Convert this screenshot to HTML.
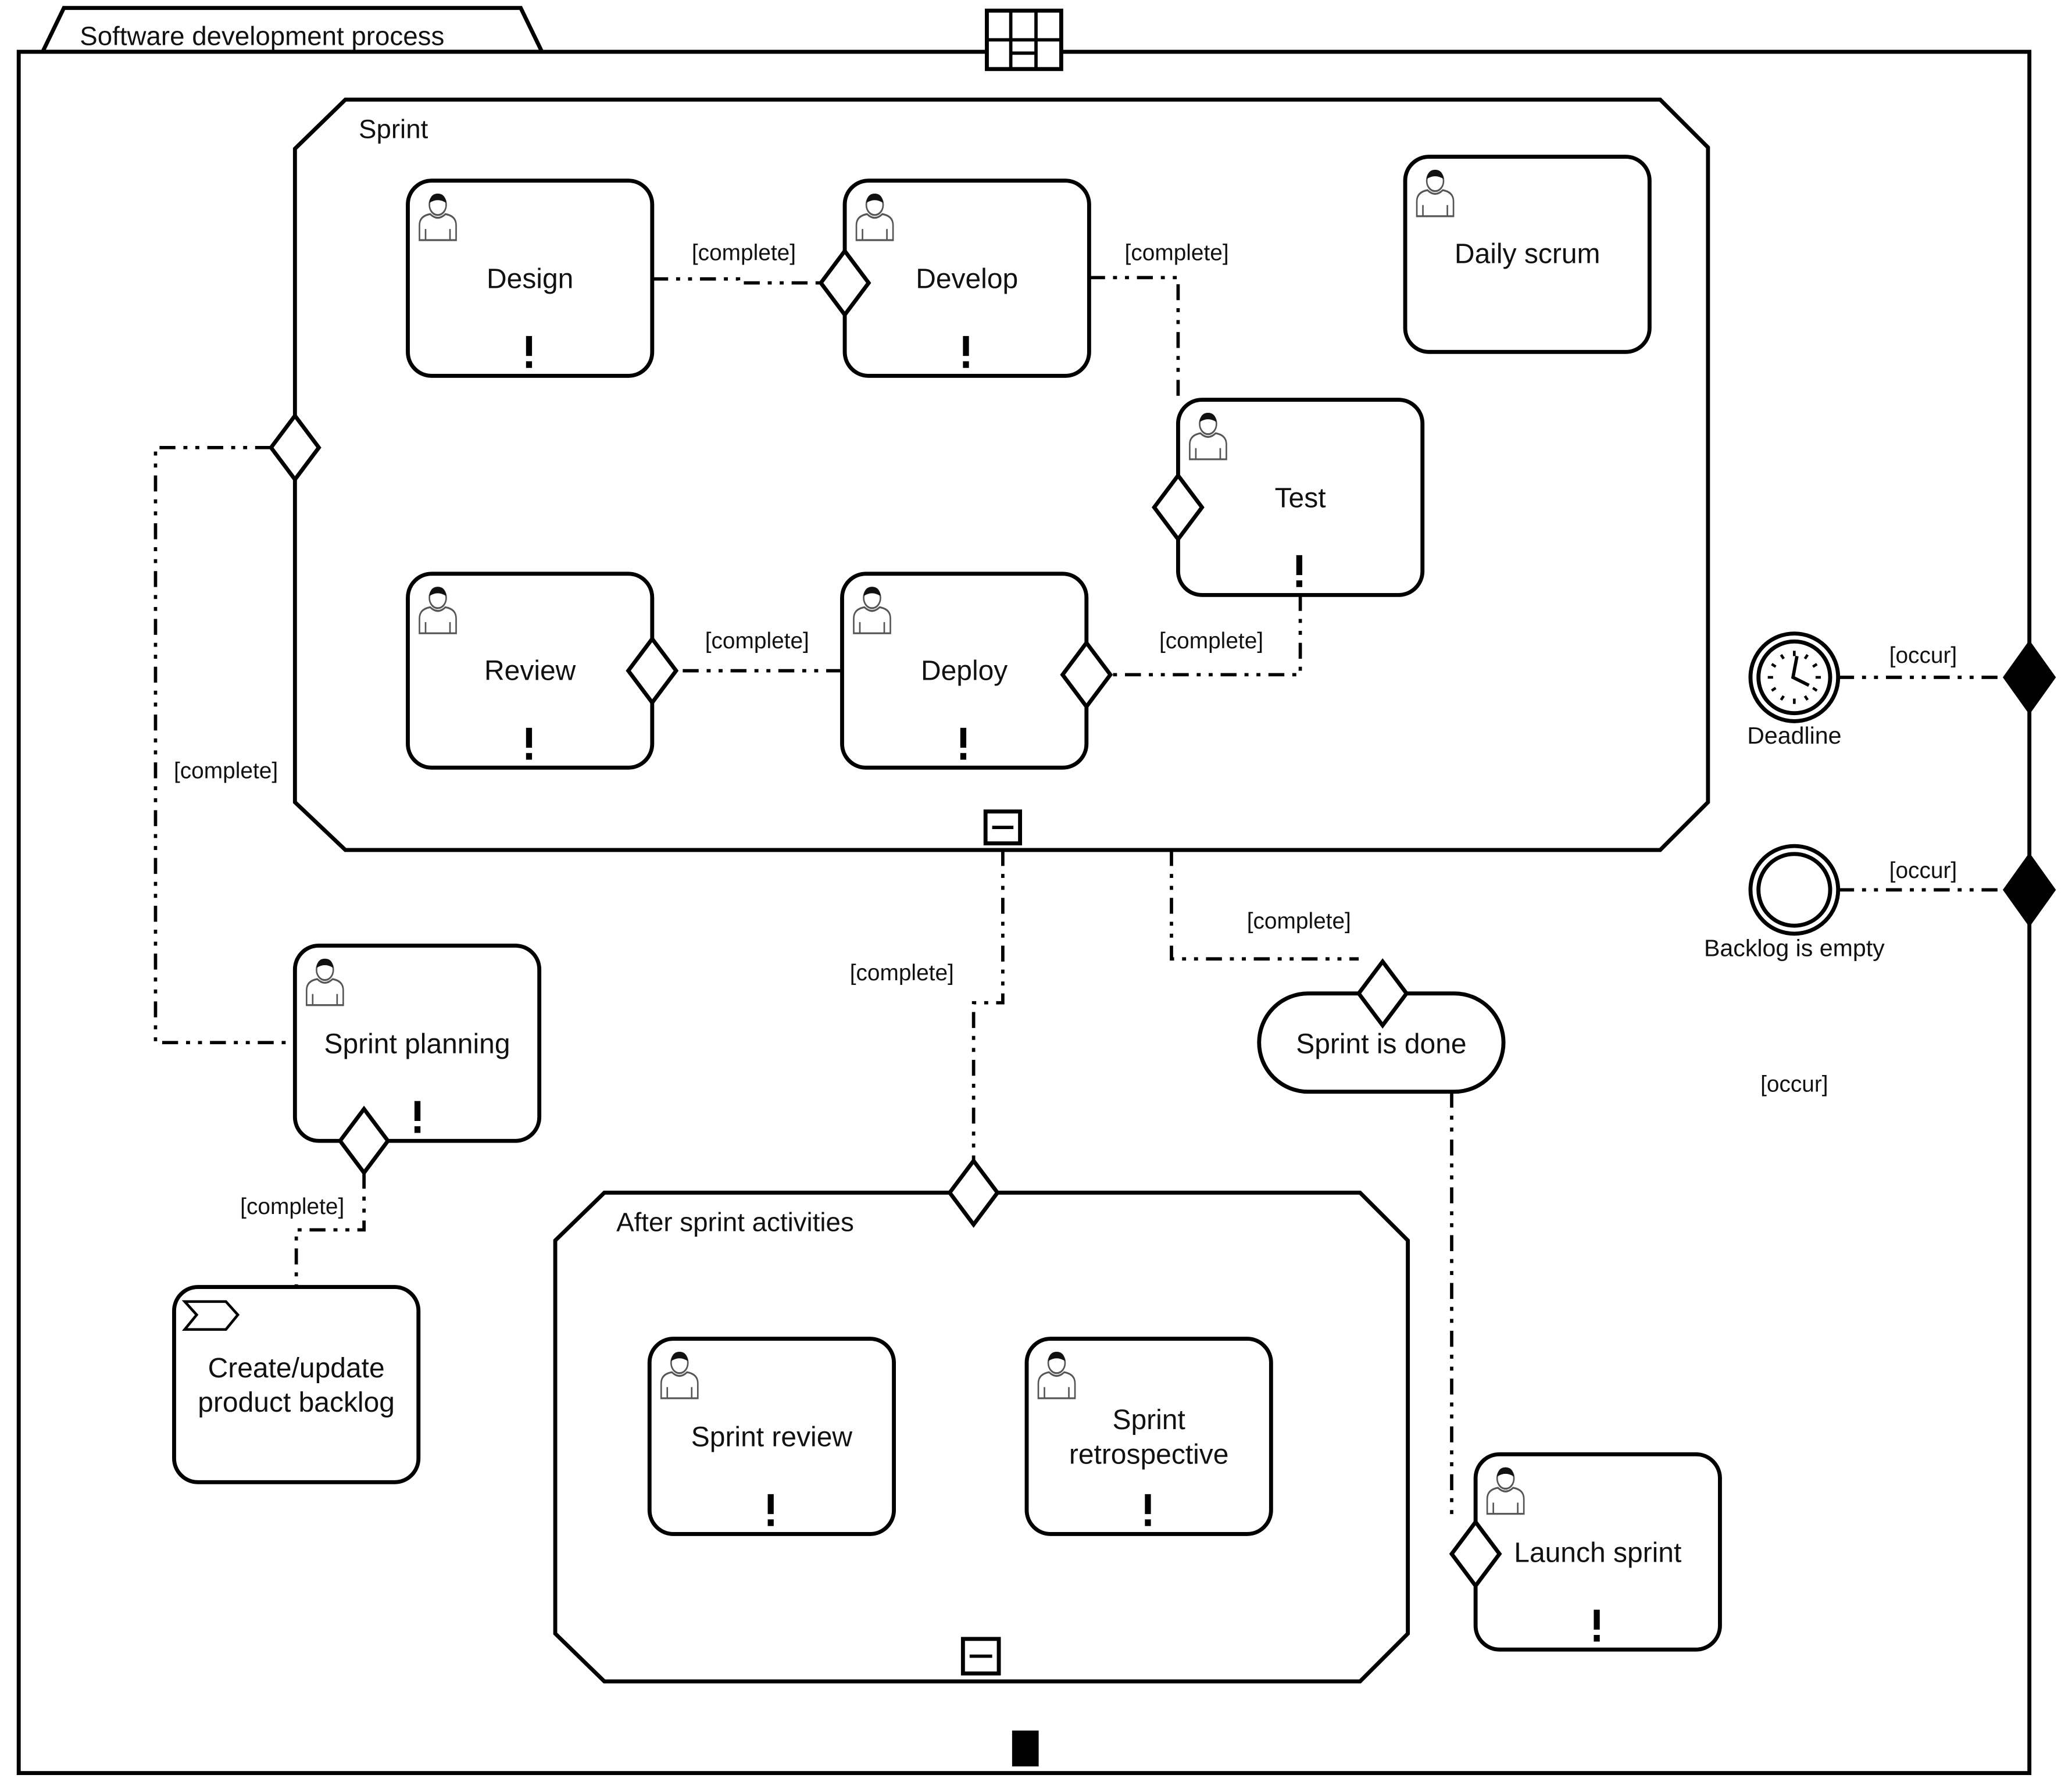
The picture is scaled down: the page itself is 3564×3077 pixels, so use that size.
<!DOCTYPE html>
<html><head><meta charset="utf-8"><style>
html,body{margin:0;padding:0;background:#fff;}
svg{display:block;}
text{font-family:"Liberation Sans",sans-serif;fill:#111;}
.t{font-size:21px;text-anchor:middle;}
.l{font-size:17px;text-anchor:middle;}
.b{fill:#fff;stroke:#000;stroke-width:3;}
.n{fill:none;stroke:#000;stroke-width:3;}
.c{fill:none;stroke:#000;stroke-width:2.5;stroke-dasharray:12 6 3 6 3 6;}
.d{fill:#fff;stroke:#000;stroke-width:3;}
</style></head><body>
<svg width="3564" height="3077" viewBox="0 0 1560 1347" xmlns="http://www.w3.org/2000/svg">
<defs>
<g id="p0">
<path d="M5,22 L5,14 Q5,9 12,8 Q17,12 22,8 Q29,9 29,14 L29,22 Z" fill="#fff" stroke="#555" stroke-width="1"/>
<circle cx="17" cy="3" r="5.5" fill="#fff" stroke="#555" stroke-width="1"/>
<path d="M11.5,2 Q12,-3 17,-3 Q22,-3 22.5,2 Q17,-1 11.5,2Z" fill="#111"/>
<line x1="9" y1="16" x2="9" y2="22" stroke="#555" stroke-width="1"/>
<line x1="25" y1="16" x2="25" y2="22" stroke="#555" stroke-width="1"/>
</g>
<g id="p"><use href="#p0" transform="translate(-1,4) scale(1.15,1.4)"/></g>
<g id="ex"><rect x="-2" y="0" width="4.5" height="15" fill="#000"/><rect x="-2" y="19" width="4.5" height="5" fill="#000"/></g>
</defs>
<rect width="1560" height="1347" fill="#fff"/>
<!-- outer frame -->
<polygon points="32,39 48,6 392,6 408,39" class="b"/>
<text x="60" y="34" style="font-size:20px">Software development process</text>
<rect x="14" y="39" width="1514" height="1296" class="n"/>
<rect x="743" y="8" width="56" height="44" class="b" stroke-width="2.5"/>
<line x1="761" y1="8" x2="761" y2="52" stroke="#000" stroke-width="2.5"/>
<line x1="780" y1="8" x2="780" y2="52" stroke="#000" stroke-width="2.5"/>
<line x1="743" y1="30" x2="799" y2="30" stroke="#000" stroke-width="2.5"/>
<line x1="761" y1="40" x2="780" y2="40" stroke="#000" stroke-width="2.5"/>
<rect x="762" y="1303" width="20" height="27" fill="#000"/>

<!-- Sprint -->
<polygon points="260,75 1250,75 1286,111 1286,604 1250,640 260,640 222,604 222,112" class="n"/>
<text x="270" y="104" style="font-size:20px">Sprint</text>
<rect x="742" y="611" width="26" height="24" class="b" stroke-width="2"/>
<line x1="747" y1="623" x2="763" y2="623" stroke="#000" stroke-width="2.5"/>

<!-- After sprint -->
<polygon points="455,898 1024,898 1060,934 1060,1230 1024,1266 455,1266 418,1230 418,934" class="n"/>
<text x="464" y="927" style="font-size:20px">After sprint activities</text>
<rect x="725" y="1234" width="27" height="26" class="b" stroke-width="2"/>
<line x1="730" y1="1247" x2="747" y2="1247" stroke="#000" stroke-width="2.5"/>

<!-- connectors -->
<path class="c" d="M491,210 L556,210 L556,213 L618,213"/>
<path class="c" d="M820,209 L887,209 L887,301"/>
<path class="c" d="M979,448 L979,508 L836,508"/>
<path class="c" d="M634,505 L509,505"/>
<path class="c" d="M204,337 L117,337 L117,785 L222,785"/>
<path class="c" d="M274,883 L274,926 L223,926 L223,969"/>
<path class="c" d="M755,640 L755,755 L733,755 L733,874"/>
<path class="c" d="M882,640 L882,722 L1023,722"/>
<path class="c" d="M1093,822 L1093,1146"/>
<path class="c" d="M1384,510 L1508,510"/>
<path class="c" d="M1384,670 L1508,670"/>

<!-- tasks -->
<g>
<rect x="307" y="136" width="184" height="147" rx="18" class="b"/><use href="#p" x="311" y="146"/><text x="399" y="217" class="t">Design</text><use href="#ex" x="398" y="253"/>
<rect x="636" y="136" width="184" height="147" rx="18" class="b"/><use href="#p" x="640" y="146"/><text x="728" y="217" class="t">Develop</text><use href="#ex" x="727" y="253"/>
<rect x="1058" y="118" width="184" height="147" rx="18" class="b"/><use href="#p" x="1062" y="128"/><text x="1150" y="198" class="t">Daily scrum</text>
<rect x="887" y="301" width="184" height="147" rx="18" class="b"/><use href="#p" x="891" y="311"/><text x="979" y="382" class="t">Test</text><use href="#ex" x="978" y="418"/>
<rect x="307" y="432" width="184" height="146" rx="18" class="b"/><use href="#p" x="311" y="442"/><text x="399" y="512" class="t">Review</text><use href="#ex" x="398" y="548"/>
<rect x="634" y="432" width="184" height="146" rx="18" class="b"/><use href="#p" x="638" y="442"/><text x="726" y="512" class="t">Deploy</text><use href="#ex" x="725" y="548"/>
<rect x="222" y="712" width="184" height="147" rx="18" class="b"/><use href="#p" x="226" y="722"/><text x="314" y="793" class="t">Sprint planning</text><use href="#ex" x="314" y="829"/>
<rect x="131" y="969" width="184" height="147" rx="18" class="b"/>
<polygon points="139,980 170,980 179,990 170,1001 139,1001 148,990" fill="#fff" stroke="#000" stroke-width="2"/>
<text x="223" y="1037" class="t">Create/update</text><text x="223" y="1063" class="t">product backlog</text>
</g>

<rect x="489" y="1008" width="184" height="147" rx="18" class="b"/><use href="#p" x="493" y="1018"/><text x="581" y="1089" class="t">Sprint review</text><use href="#ex" x="580" y="1125"/>
<rect x="773" y="1008" width="184" height="147" rx="18" class="b"/><use href="#p" x="777" y="1018"/><text x="865" y="1076" class="t">Sprint</text><text x="865" y="1102" class="t">retrospective</text><use href="#ex" x="864" y="1125"/>
<rect x="1111" y="1095" width="184" height="147" rx="18" class="b"/><use href="#p" x="1115" y="1105"/><text x="1203" y="1176" class="t">Launch sprint</text><use href="#ex" x="1202" y="1212"/>

<!-- Sprint is done -->
<rect x="948" y="748" width="184" height="74" rx="37" class="b"/>
<text x="1040" y="793" class="t">Sprint is done</text>

<!-- open diamonds -->
<g class="d">
<polygon points="636,189 654,213 636,237 618,213"/>
<polygon points="887,358 905,382 887,406 869,382"/>
<polygon points="491,481 509,505 491,529 473,505"/>
<polygon points="818,484 836,508 818,532 800,508"/>
<polygon points="222,313 240,337 222,361 204,337"/>
<polygon points="274,835 292,859 274,883 256,859"/>
<polygon points="733,874 751,898 733,922 715,898"/>
<polygon points="1041,724 1059,748 1041,772 1023,748"/>
<polygon points="1111,1146 1129,1170 1111,1194 1093,1170"/>
</g>
<polygon points="1528,482 1548,510 1528,538 1508,510" fill="#000"/>
<polygon points="1528,642 1548,670 1528,698 1508,670" fill="#000"/>

<!-- events -->
<circle cx="1351" cy="510" r="33" fill="#fff" stroke="#000" stroke-width="3"/>
<circle cx="1351" cy="510" r="27" fill="#fff" stroke="#000" stroke-width="3"/>
<g stroke="#000" stroke-width="2">
<line x1="1351" y1="490" x2="1351" y2="494"/><line x1="1351" y1="526" x2="1351" y2="530"/>
<line x1="1331" y1="510" x2="1335" y2="510"/><line x1="1367" y1="510" x2="1371" y2="510"/>
<line x1="1341" y1="493" x2="1343" y2="496"/><line x1="1361" y1="493" x2="1359" y2="496"/>
<line x1="1341" y1="527" x2="1343" y2="524"/><line x1="1361" y1="527" x2="1359" y2="524"/>
<line x1="1334" y1="500" x2="1337" y2="502"/><line x1="1368" y1="500" x2="1365" y2="502"/>
<line x1="1334" y1="520" x2="1337" y2="518"/><line x1="1368" y1="520" x2="1365" y2="518"/>
<polyline points="1353,494 1350,510 1362,516" fill="none" stroke-width="2.5"/>
</g>
<text x="1351" y="560" class="l" style="font-size:18px">Deadline</text>
<circle cx="1351" cy="670" r="33" fill="#fff" stroke="#000" stroke-width="3"/>
<circle cx="1351" cy="670" r="27" fill="#fff" stroke="#000" stroke-width="3"/>
<text x="1351" y="720" class="l" style="font-size:18px">Backlog is empty</text>

<!-- labels -->
<text x="560" y="196" class="l">[complete]</text>
<text x="886" y="196" class="l">[complete]</text>
<text x="912" y="488" class="l">[complete]</text>
<text x="570" y="488" class="l">[complete]</text>
<text x="170" y="586" class="l">[complete]</text>
<text x="220" y="914" class="l">[complete]</text>
<text x="679" y="738" class="l">[complete]</text>
<text x="978" y="699" class="l">[complete]</text>
<text x="1448" y="499" class="l">[occur]</text>
<text x="1448" y="661" class="l">[occur]</text>
<text x="1351" y="822" class="l">[occur]</text>
</svg>
</body></html>
